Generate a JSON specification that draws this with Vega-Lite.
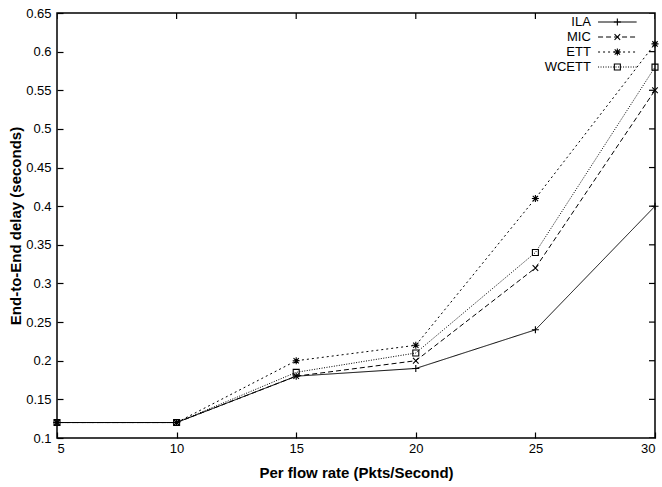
{
  "$schema": "https://vega.github.io/schema/vega-lite/v6.json",
  "autosize": "none",
  "width": 598,
  "height": 425,
  "padding": {"left": 57, "top": 13, "right": 7, "bottom": 49},
  "background": "white",
  "config": {
    "view": {"stroke": "black", "strokeWidth": 1.5},
    "font": "Liberation Sans",
    "axis": {"grid": false, "domain": false, "labelColor": "black", "labelFontSize": 13, "labelFont": "Liberation Sans", "titleFont": "Liberation Sans", "titleFontSize": 15, "titleFontWeight": "bold", "titleColor": "black"}
  },
  "datasets": {
    "xt": [{"v": 5}, {"v": 10}, {"v": 15}, {"v": 20}, {"v": 25}, {"v": 30}],
    "yt": [{"v": 0.1}, {"v": 0.15}, {"v": 0.2}, {"v": 0.25}, {"v": 0.3}, {"v": 0.35}, {"v": 0.4}, {"v": 0.45}, {"v": 0.5}, {"v": 0.55}, {"v": 0.6}, {"v": 0.65}],
    "delays": [
      {"rate": 5, "series": "ILA", "delay": 0.12},
      {"rate": 10, "series": "ILA", "delay": 0.12},
      {"rate": 15, "series": "ILA", "delay": 0.18},
      {"rate": 20, "series": "ILA", "delay": 0.19},
      {"rate": 25, "series": "ILA", "delay": 0.24},
      {"rate": 30, "series": "ILA", "delay": 0.40},
      {"rate": 5, "series": "MIC", "delay": 0.12},
      {"rate": 10, "series": "MIC", "delay": 0.12},
      {"rate": 15, "series": "MIC", "delay": 0.18},
      {"rate": 20, "series": "MIC", "delay": 0.20},
      {"rate": 25, "series": "MIC", "delay": 0.32},
      {"rate": 30, "series": "MIC", "delay": 0.55},
      {"rate": 5, "series": "ETT", "delay": 0.12},
      {"rate": 10, "series": "ETT", "delay": 0.12},
      {"rate": 15, "series": "ETT", "delay": 0.20},
      {"rate": 20, "series": "ETT", "delay": 0.22},
      {"rate": 25, "series": "ETT", "delay": 0.41},
      {"rate": 30, "series": "ETT", "delay": 0.61},
      {"rate": 5, "series": "WCETT", "delay": 0.12},
      {"rate": 10, "series": "WCETT", "delay": 0.12},
      {"rate": 15, "series": "WCETT", "delay": 0.185},
      {"rate": 20, "series": "WCETT", "delay": 0.21},
      {"rate": 25, "series": "WCETT", "delay": 0.34},
      {"rate": 30, "series": "WCETT", "delay": 0.58}
    ]
  },
  "resolve": {"axis": {"x": "independent", "y": "independent"}},
  "layer": [
    {
      "data": {"name": "delays"},
      "mark": {"type": "line", "color": "black", "strokeWidth": 1},
      "encoding": {
        "x": {"field": "rate", "type": "quantitative", "scale": {"domain": [5, 30], "nice": false, "zero": false},
              "axis": {"orient": "bottom", "values": [5, 10, 15, 20, 25, 30], "ticks": true, "tickSize": -6, "tickColor": "black", "tickWidth": 1.2, "title": "Per flow rate (Pkts/Second)", "labelPadding": 10, "titlePadding": 10}},
        "y": {"field": "delay", "type": "quantitative", "scale": {"domain": [0.1, 0.65], "nice": false, "zero": false},
              "axis": {"orient": "left", "values": [0.1, 0.15, 0.2, 0.25, 0.3, 0.35, 0.4, 0.45, 0.5, 0.55, 0.6, 0.65], "ticks": true, "tickSize": -6, "tickColor": "black", "tickWidth": 1.2, "format": "~g", "title": "End-to-End delay (seconds)", "labelPadding": 12, "titlePadding": 2}},
        "strokeDash": {"field": "series", "type": "nominal",
          "scale": {"domain": ["ILA", "MIC", "ETT", "WCETT"], "range": [[1, 0], [5, 3], [2, 3], [1, 1.5]]},
          "legend": {"orient": "none", "legendX": 552.85, "legendY": 1.5, "title": null, "symbolType": "M-2.9,0L2.9,0", "symbolSize": 177, "symbolStrokeWidth": 1, "symbolStrokeColor": "black", "symbolFillColor": "transparent", "labelAlign": "right", "labelOffset": -34, "symbolOffset": 0, "labelFontSize": 13, "labelColor": "black", "rowPadding": 0, "padding": 0}}
      }
    },
    {
      "data": {"name": "delays"},
      "mark": {"type": "point", "filled": false, "color": "black", "strokeWidth": 1.1, "size": 177, "opacity": 1},
      "encoding": {
        "x": {"field": "rate", "type": "quantitative", "axis": null},
        "y": {"field": "delay", "type": "quantitative", "axis": null},
        "shape": {"field": "series", "type": "nominal", "sort": ["ILA", "MIC", "ETT", "WCETT"],
          "scale": {"range": ["M-0.53,0L0.53,0M0,-0.53L0,0.53", "M-0.42,-0.42L0.42,0.42M-0.42,0.42L0.42,-0.42", "M-0.53,0L0.53,0M0,-0.53L0,0.53M-0.4,-0.4L0.4,0.4M-0.4,0.4L0.4,-0.4", "M-0.45,-0.45H0.45V0.45H-0.45Z"]},
          "legend": {"orient": "none", "legendX": 552.85, "legendY": 1.5, "title": null, "symbolSize": 177, "symbolStrokeWidth": 1.1, "symbolStrokeColor": "black", "symbolFillColor": "transparent", "labelOpacity": 0, "labelAlign": "right", "labelOffset": -34, "symbolOffset": 0, "labelFontSize": 13, "rowPadding": 0, "padding": 0}}
      }
    },
    {
      "data": {"name": "xt"},
      "mark": {"type": "tick", "orient": "vertical", "color": "black", "size": 12, "thickness": 1.2, "clip": true, "opacity": 1},
      "encoding": {
        "x": {"field": "v", "type": "quantitative", "axis": null},
        "y": {"datum": 0.65, "type": "quantitative", "axis": null}
      }
    },
    {
      "data": {"name": "yt"},
      "mark": {"type": "tick", "orient": "horizontal", "color": "black", "size": 12, "thickness": 1.2, "clip": true, "opacity": 1},
      "encoding": {
        "y": {"field": "v", "type": "quantitative", "axis": null},
        "x": {"datum": 30, "type": "quantitative", "axis": null}
      }
    }
  ]
}
